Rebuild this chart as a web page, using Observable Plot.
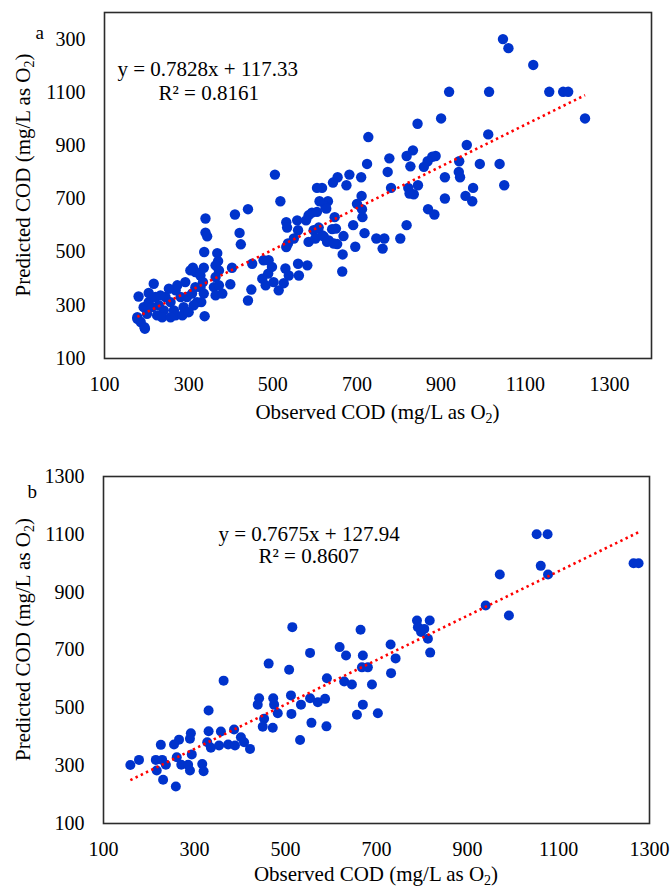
<!DOCTYPE html>
<html>
<head>
<meta charset="utf-8">
<script src="https://cdn.jsdelivr.net/npm/d3@7"></script>
<script src="https://cdn.jsdelivr.net/npm/@observablehq/plot@0.6"></script>
<style>
  html, body { margin: 0; padding: 0; background: #fff; }
  #chart svg { display: block; }
</style>
</head>
<body>
<div id="chart"></div>
<script>
// ---------- Panel a data (Observed vs Predicted COD, mg/L as O2) ----------
const aObserved = [
  1047,1060,1119,919,1014,1157,1190,1202,1242,900,844,727,1012,961,833,818,777,724,887,879,
  868,859,827,773,943,992,1039,942,945,909,1050,976,958,974,909,845,822,825,835,781,
  710,682,654,643,675,617,711,700,712,713,631,625,647,691,718,818,869,884,746,765,
  761,803,696,668,666,665,650,641,653,629,617,
  505,518,605,611,627,593,605,585,558,579,532,534,560,597,609,550,585,601,621,633,
  532,536,645,410,441,340,340,344,421,424,337,368,370,364,372,403,399,364,360,364,
  380,372,336,310,316,328,334,328,336,330,338,451,478,490,498,489,475,483,502,514,
  526,530,538,560,582,562,449,441,
  178,186,196,193,205,221,229,241,245,257,265,269,285,288,296,308,316,320,312,300,
  281,269,253,233,213,201,225,237,257,181,217,205,273,292,304,178,195
];
const aPredicted = [
  1300,1266,1203,1102,1102,1102,1102,1102,1002,1002,982,932,942,902,882,861,852,831,861,858,
  841,820,822,801,841,831,831,801,781,781,751,741,711,691,701,751,741,720,717,741,
  781,791,781,761,751,741,711,681,661,631,691,670,631,601,571,601,661,641,551,551,
  513,551,520,560,491,427,588,586,530,538,563,
  791,691,741,691,663,648,651,638,619,619,612,592,582,582,592,551,538,551,559,544,
  519,532,532,641,661,626,573,559,572,529,500,496,466,450,431,441,379,406,368,337,
  344,375,441,441,425,412,387,368,344,312,259,456,469,469,444,419,400,375,387,356,
  383,438,412,456,450,412,359,318,
  255,237,212,293,312,331,300,281,331,312,281,262,262,293,331,344,368,312,300,274,
  331,356,362,337,293,268,262,255,255,333,381,346,375,387,431,249,218
];

// ---------- Panel b data ----------
const bObserved = [
  515,665,554,619,633,670,731,463,508,364,668,681,732,591,629,646,690,442,439,473,
  475,483,512,534,554,571,587,513,670,657,703,453,450,472,557,590,532,331,331,358,
  387,328,336,354,374,389,402,409,422,292,290,266,255,226,294,261,271,286,290,317,
  320,215,229,237,217,178,159,231,259,
  1052,1076,1061,1077,971,940,991,1265,1276,789,817,791,798,805,813,818,742
];
const bPredicted = [
  779,770,690,710,681,681,719,653,632,594,640,640,620,602,591,581,581,533,511,533,
  511,481,543,511,533,519,531,479,511,476,481,462,435,431,448,436,389,491,419,418,
  425,381,362,370,373,370,398,381,358,412,393,390,373,372,339,329,303,303,283,306,
  281,320,320,303,283,320,302,251,228,
  1100,1100,991,961,961,854,819,1000,1000,802,802,779,762,773,739,691,671
];

// ---------- Axis ticks, labels, fitted trendlines ----------
const axisTicks = [100, 300, 500, 700, 900, 1100, 1300];
const xTickLabels = ["100", "300", "500", "700", "900", "1100", "1300"];
const aYTickLabels = ["100", "300", "500", "700", "900", "1100", "300"];
const bYTickLabels = ["100", "300", "500", "700", "900", "1100", "1300"];
const aDomain = [100, 1400];
const bDomain = [100, 1300];
const aFit = {slope: 0.7828, intercept: 117.33, eq: "y = 0.7828x + 117.33", r2: "R² = 0.8161"};
const bFit = {slope: 0.7675, intercept: 127.94, eq: "y = 0.7675x + 127.94", r2: "R² = 0.8607"};
const xTitle = ["Observed COD (mg/L as O", "2", ")"];
const yTitle = ["Predicted COD (mg/L as O", "2", ")"];

const FONT = "'Liberation Serif', 'Times New Roman', Times, serif";

function addTitle(g, parts, attrs) {
  const t = g.append("text").attr("text-anchor", "middle");
  for (const [k, v] of Object.entries(attrs)) t.attr(k, v);
  t.append("tspan").text(parts[0]);
  t.append("tspan").attr("font-size", 14).attr("dy", 4).text(parts[1]);
  t.append("tspan").attr("dy", -4).text(parts[2]);
}

function panel(opts) {
  const {obs, pred, fit, domain, yLabels, letter, height, m, eqPos, r2Pos, letterPos, dotR, titleGap} = opts;
  const rows = obs.map((o, i) => ({obs: o, pred: pred[i]}));
  const ext = d3.extent(obs);
  const trend = ext.map(x => ({x, y: fit.slope * x + fit.intercept}));
  const xMap = new Map(axisTicks.map((t, i) => [t, xTickLabels[i]]));
  const yMap = new Map(axisTicks.map((t, i) => [t, yLabels[i]]));
  const svg = Plot.plot({
    width: 671,
    height,
    marginLeft: m.left, marginRight: m.right, marginTop: m.top, marginBottom: m.bottom,
    x: {domain},
    y: {domain},
    style: {fontFamily: FONT, fontSize: "20px", color: "#000", background: "#fff", overflow: "visible"},
    marks: [
      Plot.frame({stroke: "#2b2b2b", strokeWidth: 1.6}),
      Plot.axisX({ticks: axisTicks, tickSize: 0, tickPadding: 18, tickFormat: d => xMap.get(d), fontSize: 20, label: null}),
      Plot.axisY({ticks: axisTicks, tickSize: 0, tickPadding: 19, tickFormat: d => yMap.get(d), fontSize: 20, label: null}),
      Plot.dot(rows, {x: "obs", y: "pred", r: dotR, fill: "#0033cc", stroke: "none"}),
      Plot.line(trend, {x: "x", y: "y", stroke: "#ff0000", strokeWidth: 2.6, strokeDasharray: "2.4,3.4", strokeLinecap: "butt"}),
      Plot.text([fit.eq], {frameAnchor: "top-left", dx: eqPos[0], dy: eqPos[1], textAnchor: "start", lineAnchor: "bottom", fontSize: 21, fill: "#000"}),
      Plot.text([fit.r2], {frameAnchor: "top-left", dx: r2Pos[0], dy: r2Pos[1], textAnchor: "start", lineAnchor: "bottom", fontSize: 21, fill: "#000"}),
      Plot.text([letter], {frameAnchor: "top-left", dx: letterPos[0], dy: letterPos[1], textAnchor: "start", lineAnchor: "bottom", fontSize: 19, fill: "#000"})
    ]
  });
  const plotW = 671 - m.left - m.right;
  const plotH = height - m.top - m.bottom;
  const g = d3.select(svg).append("g").attr("font-family", FONT).attr("font-size", 21).attr("fill", "#000");
  addTitle(g, xTitle, {x: m.left + plotW / 2, y: height - m.bottom + titleGap});
  addTitle(g, yTitle, {transform: `translate(30,${m.top + plotH / 2 - 10}) rotate(-90)`});
  return svg;
}

const root = document.getElementById("chart");
root.appendChild(panel({
  obs: aObserved, pred: aPredicted, fit: aFit, domain: aDomain, yLabels: aYTickLabels, letter: "a",
  height: 440, m: {left: 104, right: 20, top: 12, bottom: 82},
  eqPos: [13, 63], r2Pos: [54, 87], letterPos: [-69, 26], dotR: 5.2, titleGap: 61
}));
root.appendChild(panel({
  obs: bObserved, pred: bPredicted, fit: bFit, domain: bDomain, yLabels: bYTickLabels, letter: "b",
  height: 450, m: {left: 103, right: 22, top: 36, bottom: 67},
  eqPos: [115, 64], r2Pos: [155, 86], letterPos: [-76, 21], dotR: 5, titleGap: 58
}));
</script>
</body>
</html>
